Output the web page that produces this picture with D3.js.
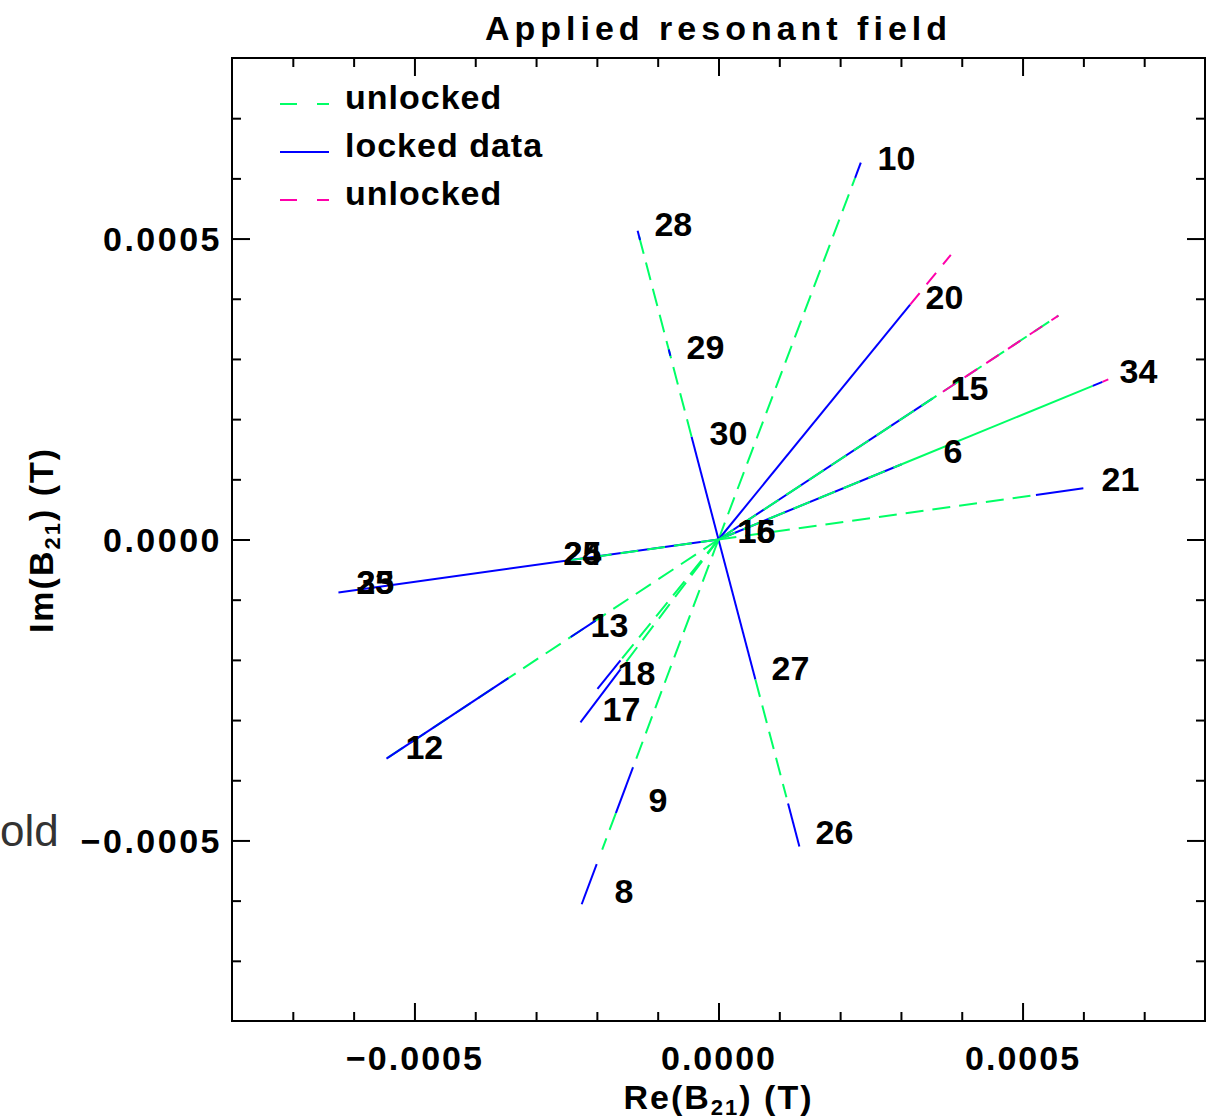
<!DOCTYPE html>
<html lang="en">
<head>
    <meta charset="UTF-8">
    <title>Applied resonant field</title>
    <script src="https://d3js.org/d3.v7.min.js"></script>
</head>
<style>
    body {
        margin: 0;
        background: #fff;
    }
    svg {
        display: block;
    }
    text {
        font-family: "Liberation Sans", Arial, sans-serif;
        font-weight: bold;
        fill: #000;
    }
</style>
<body>
<div class="chart"></div>
<script>
  /** DATA: each ray goes from the origin to (re, im); segments are [t0, t1, state] along it
   *  state: u = unlocked (green dashed), g = unlocked overlap (green solid),
   *         l = locked (blue), p = unlocked (pink dashed) */
  var rayRe = [0.000234, -0.000133, 0.000133, 0.000382, 0.000559, 0.000641, 0.000600,
               -0.000625, -0.000546, -0.000227, -0.000199, -0.000225];
  var rayIm = [0.000626, 0.000513, -0.000510, 0.000473, 0.000372, 0.000266, 0.000085,
               -0.000088, -0.000364, -0.000304, -0.000248, -0.000606];
  var raySegments = [
    [[0, 0.96, 'u'], [0.96, 1, 'l']],
    [[0, 0.333, 'l'], [0.333, 1, 'u'], [0.595, 0.615, 'l'], [0.97, 1, 'l']],
    [[0, 0.456, 'l'], [0.456, 0.84, 'u'], [0.86, 1, 'l']],
    [[0, 0.825, 'l'], [0.825, 1, 'p']],
    [[0, 0.63, 'l'], [0, 1, 'u'], [0.66, 1, 'p']],
    [[0, 0.47, 'l'], [0, 0.47, 'u'], [0.47, 0.96, 'g'], [0.96, 0.985, 'l'], [0.985, 1, 'p']],
    [[0, 0.87, 'u'], [0.87, 1, 'l']],
    [[0, 1, 'l'], [0, 0.4, 'u']],
    [[0, 1, 'u'], [0.37, 0.445, 'l'], [0.633, 1, 'l']],
    [[0, 0.71, 'u'], [0.71, 1, 'l']],
    [[0, 0.81, 'u'], [0.81, 1, 'l']],
    [[0, 0.625, 'u'], [0.625, 0.75, 'l'], [0.75, 0.85, 'u'], [0.89, 1, 'l']]
  ];

  /** shot number labels */
  var labelText = ['10', '28', '29', '30', '20', '15', '34', '6', '21', '16', '15',
                   '23', '35', '25', '24', '13', '18', '17', '12', '9', '8', '27', '26'];
  var labelRe = [0.0002615, -0.0001053, -0.0000526, -0.0000148, 0.0003405, 0.0003816, 0.0006595,
                 0.0003701, 0.00063, 0.0000313, 0.0000313, -0.0005954, -0.0005954, -0.0002549,
                 -0.0002549, -0.0002105, -0.0001661, -0.0001908, -0.0005148, -0.0001151,
                 -0.0001711, 0.0000872, 0.0001595];
  var labelIm = [0.0006346, 0.0005249, 0.0003206, 0.0001777, 0.0004037, 0.0002525, 0.0002807,
                 0.0001478, 0.0001013, 0.000015, 0.000015, -0.0000698, -0.0000698, -0.0000216,
                 -0.0000216, -0.0001412, -0.0002209, -0.0002807, -0.0003439, -0.0004319,
                 -0.0005831, -0.0002126, -0.000485];

  var majorTicks = [-0.0005, 0, 0.0005];
  var minorTicks = [-0.0007, -0.0006, -0.0004, -0.0003, -0.0002, -0.0001,
                    0.0001, 0.0002, 0.0003, 0.0004, 0.0006, 0.0007];
  var tickLabels = ['\u22120.0005', '0.0000', '0.0005'];

  var legendText = ['unlocked', 'locked data', 'unlocked'];
  var legendState = ['u', 'l', 'p'];

  /** LAYOUT */
  var width = 1211, height = 1120;
  var plotLeft = 232, plotRight = 1205, plotTop = 58, plotBottom = 1021;

  var styles = {
    u: {color: '#00ff66', dash: '18,9'},
    g: {color: '#00ff66', dash: null},
    l: {color: '#0000ff', dash: null},
    p: {color: '#ff00aa', dash: '15,11'}
  };

  var svg = d3.select('.chart').append('svg')
    .attr('width', width)
    .attr('height', height);

  var x = d3.scaleLinear().domain([-0.0008, 0.0008]).range([plotLeft, plotRight]);
  var y = d3.scaleLinear().domain([-0.0008, 0.0008]).range([plotBottom, plotTop]);

  /** rays */
  var plot = svg.append('g');
  raySegments.forEach(function (segs, i) {
    segs.forEach(function (s) {
      var st = styles[s[2]];
      plot.append('line')
        .attr('x1', x(s[0] * rayRe[i]))
        .attr('y1', y(s[0] * rayIm[i]))
        .attr('x2', x(s[1] * rayRe[i]))
        .attr('y2', y(s[1] * rayIm[i]))
        .attr('stroke', st.color)
        .attr('stroke-width', 2)
        .attr('stroke-dasharray', st.dash);
    });
  });

  /** labels */
  plot.selectAll('text.shot')
    .data(labelText)
    .enter().append('text')
    .attr('class', 'shot')
    .attr('x', function (d, i) { return x(labelRe[i]); })
    .attr('y', function (d, i) { return y(labelIm[i]); })
    .attr('dy', '0.36em')
    .style('font-size', '34px')
    .text(function (d) { return d; });

  /** axes: ticks on all four sides, pointing inwards */
  function axisGroup(axis, tx, ty) {
    var g = svg.append('g')
      .attr('transform', 'translate(' + tx + ',' + ty + ')')
      .call(axis);
    g.select('.domain').remove();
    g.selectAll('.tick line').attr('stroke', '#000').attr('stroke-width', 2);
    return g;
  }
  var noLabel = function () { return ''; };

  var xb = axisGroup(d3.axisBottom(x).tickValues(majorTicks).tickSize(-18)
    .tickFormat(function (d, i) { return tickLabels[i]; }), 0, plotBottom);
  xb.selectAll('.tick text')
    .attr('y', 37)
    .attr('dy', '0.36em')
    .style('font-size', '34px')
    .style('letter-spacing', '2px')
    .style('font-family', '"Liberation Sans", Arial, sans-serif')
    .style('font-weight', 'bold');
  axisGroup(d3.axisBottom(x).tickValues(minorTicks).tickSize(-9).tickFormat(noLabel), 0, plotBottom);
  axisGroup(d3.axisTop(x).tickValues(majorTicks).tickSize(-18).tickFormat(noLabel), 0, plotTop);
  axisGroup(d3.axisTop(x).tickValues(minorTicks).tickSize(-9).tickFormat(noLabel), 0, plotTop);

  var yl = axisGroup(d3.axisLeft(y).tickValues(majorTicks).tickSize(-18)
    .tickFormat(function (d, i) { return tickLabels[i]; }), plotLeft, 0);
  yl.selectAll('.tick text')
    .attr('x', -10)
    .attr('dy', '0.36em')
    .style('font-size', '34px')
    .style('letter-spacing', '2.5px')
    .style('font-family', '"Liberation Sans", Arial, sans-serif')
    .style('font-weight', 'bold');
  axisGroup(d3.axisLeft(y).tickValues(minorTicks).tickSize(-9).tickFormat(noLabel), plotLeft, 0);
  axisGroup(d3.axisRight(y).tickValues(majorTicks).tickSize(-18).tickFormat(noLabel), plotRight, 0);
  axisGroup(d3.axisRight(y).tickValues(minorTicks).tickSize(-9).tickFormat(noLabel), plotRight, 0);

  /** frame */
  svg.append('rect')
    .attr('x', plotLeft).attr('y', plotTop)
    .attr('width', plotRight - plotLeft).attr('height', plotBottom - plotTop)
    .attr('fill', 'none')
    .attr('stroke', '#000')
    .attr('stroke-width', 2);

  /** title and axis titles */
  svg.append('text')
    .attr('x', (plotLeft + plotRight) / 2)
    .attr('y', 40)
    .style('text-anchor', 'middle')
    .style('font-size', '34px')
    .style('letter-spacing', '5px')
    .text('Applied resonant field');

  var xt = svg.append('text')
    .attr('x', (plotLeft + plotRight) / 2)
    .attr('y', 1109)
    .style('text-anchor', 'middle')
    .style('font-size', '34px')
    .style('letter-spacing', '2px');
  xt.append('tspan').text('Re(B');
  xt.append('tspan').attr('dy', 6).style('font-size', '22px').text('21');
  xt.append('tspan').attr('dy', -6).text(')  (T)');

  var yt = svg.append('text')
    .attr('transform', 'translate(53,540) rotate(-90)')
    .style('text-anchor', 'middle')
    .style('font-size', '34px')
    .style('letter-spacing', '2px');
  yt.append('tspan').text('Im(B');
  yt.append('tspan').attr('dy', 7).style('font-size', '22px').text('21');
  yt.append('tspan').attr('dy', -7).text(')  (T)');

  /** legend */
  var legend = svg.append('g').attr('transform', 'translate(280,104)');
  var item = legend.selectAll('g')
    .data(legendText)
    .enter().append('g')
    .attr('transform', function (d, i) { return 'translate(0,' + (i * 48) + ')'; });
  item.append('line')
    .attr('x1', 0).attr('x2', 49)
    .attr('stroke', function (d, i) { return styles[legendState[i]].color; })
    .attr('stroke-width', 2)
    .attr('stroke-dasharray', function (d, i) { return legendState[i] === 'l' ? null : '17,20'; });
  item.append('text')
    .attr('x', 65)
    .attr('y', -7)
    .attr('dy', '0.36em')
    .style('font-size', '34px')
    .style('letter-spacing', '1px')
    .text(function (d) { return d; });

  /** fragment of a neighbouring figure at the left edge */
  svg.append('text')
    .attr('x', 0)
    .attr('y', 846)
    .style('font-weight', 'normal')
    .style('font-size', '44px')
    .style('fill', '#333')
    .text('old');
</script>
</body>
</html>
